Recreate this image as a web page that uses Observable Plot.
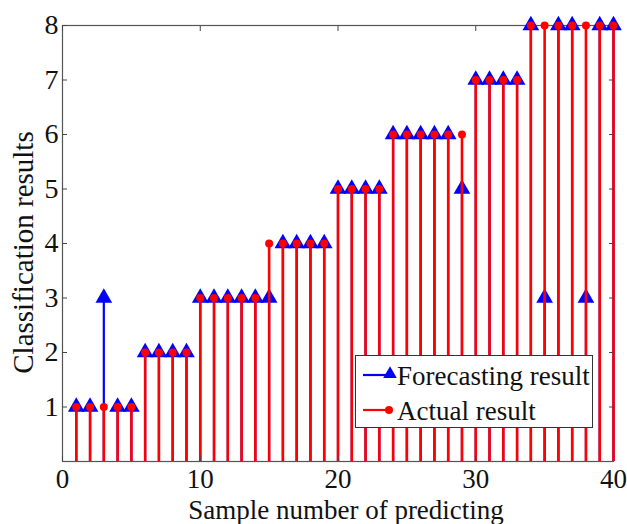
<!DOCTYPE html>
<html>
<head>
<meta charset="utf-8">
<script src="https://cdn.jsdelivr.net/npm/d3@7"></script>
<script src="https://cdn.jsdelivr.net/npm/@observablehq/plot@0.6"></script>
<style>
  html, body { margin: 0; padding: 0; background: #fff; }
  #wrap { position: relative; width: 627px; height: 524px; }
  #legend { position: absolute; left: 355px; top: 355px; }
</style>
</head>
<body>
<div id="wrap"></div>
<script>
const samples = d3.range(1, 41);
const actual = [1,1,1,1,1, 2,2,2,2, 3,3,3,3,3, 4,4,4,4,4, 5,5,5,5, 6,6,6,6,6,6, 7,7,7,7, 8,8,8,8,8,8,8];
const forecast = [1,1,3,1,1, 2,2,2,2, 3,3,3,3,3,3, 4,4,4,4, 5,5,5,5, 6,6,6,6,6,5, 7,7,7,7, 8,3,8,8,3,8,8];
const xTicks = [0, 10, 20, 30, 40];
const yTicks = [1, 2, 3, 4, 5, 6, 7, 8];
const seriesNames = ["Forecasting result", "Actual result"];
const seriesColors = ["#0000ff", "#ff0000"];

const rows = samples.map((s, i) => ({ s, actual: actual[i], forecast: forecast[i] }));

const chart = Plot.plot({
  width: 627,
  height: 524,
  marginLeft: 62,
  marginRight: 14,
  marginTop: 25,
  marginBottom: 63,
  style: { fontFamily: "Liberation Serif", fontSize: "27px", background: "#fff", overflow: "visible" },
  x: { domain: [0, 40] },
  y: { domain: [0, 8] },
  marks: [
    Plot.frame({ stroke: "#555", strokeWidth: 1.2 }),
    Plot.ruleX(rows, { x: "s", y1: 0, y2: "forecast", stroke: seriesColors[0], strokeWidth: 2.2 }),
    Plot.dot(rows, { x: "s", y: "forecast", symbol: "triangle", r: 6.2, fill: seriesColors[0], stroke: "none" }),
    Plot.ruleX(rows, { x: "s", y1: 0, y2: "actual", stroke: seriesColors[1], strokeWidth: 2.6 }),
    Plot.dot(rows, { x: "s", y: "actual", r: 4, fill: seriesColors[1], stroke: "none" }),
    Plot.axisX({ ticks: xTicks, tickSize: 0, tickPadding: 7, label: null, fontSize: 27, fill: "#111" }),
    Plot.axisX({ ticks: xTicks, tickSize: -5, text: null, label: null, stroke: "#444" }),
    Plot.axisX({ anchor: "top", ticks: xTicks, tickSize: -5, text: null, label: null, stroke: "#444" }),
    Plot.axisY({ ticks: yTicks, tickSize: 0, tickPadding: 4, label: null, fontSize: 28, fill: "#111" }),
    Plot.axisY({ ticks: yTicks, tickSize: -5, text: null, label: null, stroke: "#444" }),
    Plot.axisY({ anchor: "right", ticks: yTicks, tickSize: -5, text: null, label: null, stroke: "#444" }),
    Plot.text(["Sample number of predicting"], { frameAnchor: "bottom", textAnchor: "middle", lineAnchor: "middle", dx: 8, dy: 48.4, fontSize: 27, fill: "#111", fontFamily: "Liberation Serif" }),
    Plot.text(["Classification results"], { frameAnchor: "left", textAnchor: "middle", lineAnchor: "middle", dx: -39, dy: 9, rotate: -90, fontSize: 29, fill: "#111", fontFamily: "Liberation Serif" })
  ]
});

const wrap = document.getElementById("wrap");
wrap.appendChild(chart);

// Legend box (inside the plot area, lower right)
const lw = 238, lh = 73;
const svg = d3.create("svg").attr("id", "legend").attr("width", lw).attr("height", lh);
svg.append("rect").attr("x", 0.5).attr("y", 0.5).attr("width", lw - 1).attr("height", lh - 1)
  .attr("fill", "#fff").attr("stroke", "#333").attr("stroke-width", 1);
seriesNames.forEach((name, i) => {
  const cy = 20 + i * 35;
  const g = svg.append("g");
  g.append("line").attr("x1", 8).attr("x2", 35).attr("y1", cy).attr("y2", cy)
    .attr("stroke", seriesColors[i]).attr("stroke-width", 2.2);
  if (i === 0) {
    g.append("path").attr("d", d3.symbol(d3.symbolTriangle, 80)()).attr("transform", `translate(35,${cy - 1})`)
      .attr("fill", seriesColors[0]);
  } else {
    g.append("circle").attr("cx", 34).attr("cy", cy).attr("r", 4).attr("fill", seriesColors[1]);
  }
  g.append("text").attr("x", 42).attr("y", cy + 10).text(name)
    .attr("font-family", "Liberation Serif").attr("font-size", 27).attr("fill", "#111");
});
wrap.appendChild(svg.node());
</script>
</body>
</html>
